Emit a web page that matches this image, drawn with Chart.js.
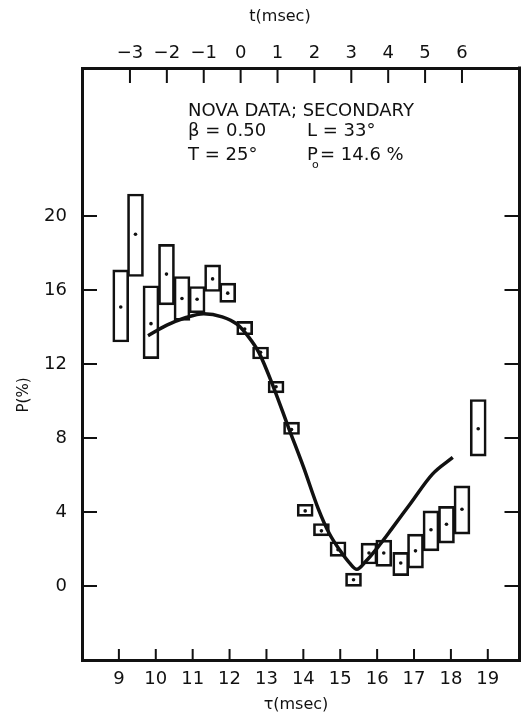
<!DOCTYPE html>
<html><head><meta charset="utf-8">
<script src="https://cdn.jsdelivr.net/npm/chart.js@4.4.1/dist/chart.umd.min.js"></script>
<style>html,body{margin:0;padding:0;background:#fff;}canvas{display:block;}</style>
</head><body>
<canvas id="c" width="521" height="723"></canvas>
<script>
// ---- data ----
const tau   = [9.05, 9.45, 9.87, 10.29, 10.71, 11.12, 11.54, 11.95, 12.41, 12.84, 13.26, 13.68, 14.05, 14.49, 14.94, 15.36, 15.78, 16.18, 16.64, 17.04, 17.46, 17.88, 18.30, 18.74];
const pMid  = [15.08, 19.01, 14.18, 16.86, 15.54, 15.50, 16.60, 15.83, 13.89, 12.63, 10.77, 8.46, 4.06, 2.98, 1.96, 0.34, 1.78, 1.78, 1.24, 1.90, 3.04, 3.34, 4.15, 8.50];
const pHigh = [17.09, 21.19, 16.23, 18.47, 16.73, 16.19, 17.36, 16.37, 14.30, 12.92, 11.07, 8.86, 4.42, 3.38, 2.39, 0.70, 2.32, 2.48, 1.82, 2.80, 4.06, 4.30, 5.41, 10.08];
const pLow  = [13.19, 16.73, 12.29, 15.20, 14.36, 14.77, 15.92, 15.33, 13.58, 12.27, 10.44, 8.19, 3.76, 2.71, 1.60, -0.02, 1.19, 1.06, 0.56, 0.97, 1.90, 2.32, 2.80, 7.02];
const curveTau = [9.79, 10.3, 10.8, 11.3, 11.8, 12.2, 12.5, 12.8, 13.2, 13.6, 14.0, 14.4, 14.7, 15.0, 15.25, 15.45, 15.7, 16.0, 16.4, 16.9, 17.5, 18.05];
const curveP   = [13.53, 14.1, 14.5, 14.72, 14.55, 14.15, 13.5, 12.6, 10.7, 8.55, 6.45, 4.2, 2.85, 1.9, 1.25, 0.9, 1.35, 2.05, 3.1, 4.45, 6.05, 6.95];
const tauTicks = [9, 10, 11, 12, 13, 14, 15, 16, 17, 18, 19];
const tTicks   = [-3, -2, -1, 0, 1, 2, 3, 4, 5, 6];
const pTicks   = [0, 4, 8, 12, 16, 20];
const tauMin = 8, tauMax = 19.9, tShift = 12.3, pMin = -4, pMax = 28;

const INK = '#111';
const FAM = '"DejaVu Sans", sans-serif';
Chart.defaults.font.family = FAM;
Chart.defaults.color = INK;

const fixTicks = vals => scale => { scale.ticks = vals.map(v => ({ value: v })); };
const minus = v => (v < 0 ? '\u2212' + Math.abs(v) : String(v));
const noPad = (prop, size) => s => {
  s[prop] = size;
  s.paddingLeft = 0; s.paddingRight = 0; s.paddingTop = 0; s.paddingBottom = 0;
};

const decor = {
  id: 'decor',
  afterDraw(chart) {
    const ctx = chart.ctx, a = chart.chartArea, s = chart.scales;
    const rightX = Math.min(a.right, 521) - 1.5;
    ctx.save();
    ctx.strokeStyle = INK; ctx.lineCap = 'butt';
    // right frame line
    ctx.lineWidth = 3;
    ctx.beginPath(); ctx.moveTo(rightX, a.top - 1.5); ctx.lineTo(rightX, a.bottom + 1.5); ctx.stroke();
    // inward tick marks
    ctx.lineWidth = 2;
    ctx.beginPath();
    s.x.ticks.forEach(t => { const px = s.x.getPixelForValue(t.value); ctx.moveTo(px, a.bottom); ctx.lineTo(px, a.bottom - 11); });
    s.xt.ticks.forEach(t => { const px = s.xt.getPixelForValue(t.value); ctx.moveTo(px, a.top); ctx.lineTo(px, a.top + 15); });
    s.y.ticks.forEach(t => {
      const py = s.y.getPixelForValue(t.value);
      ctx.moveTo(a.left, py); ctx.lineTo(a.left + 15, py);
      ctx.moveTo(rightX - 15, py); ctx.lineTo(rightX, py);
    });
    ctx.stroke();

    ctx.fillStyle = INK;
    // axis titles
    ctx.font = '16px ' + FAM; ctx.textAlign = 'center'; ctx.textBaseline = 'alphabetic';
    ctx.fillText('t(msec)', 280, 21);
    ctx.fillText('\u03C4(msec)', 296, 709);
    ctx.save(); ctx.translate(28, 395); ctx.rotate(-Math.PI / 2);
    ctx.font = '15px ' + FAM; ctx.fillText('P(%)', 0, 0); ctx.restore();

    // annotation block
    ctx.textAlign = 'left';
    ctx.font = '18px ' + FAM;
    ctx.fillText('NOVA DATA; SECONDARY', 188, 116);
    ctx.fillText('\u03B2 = 0.50', 188, 136);
    ctx.fillText('L = 33\u00B0', 307, 136);
    ctx.fillText('T = 25\u00B0', 188, 160);
    ctx.fillText('P', 307, 160);
    ctx.font = '11px ' + FAM; ctx.fillText('o', 312, 168);
    ctx.font = '18px ' + FAM; ctx.fillText('= 14.6 %', 320, 160);
    ctx.restore();
  }
};

new Chart(document.getElementById('c'), {
  type: 'bar',
  data: {
    datasets: [
      {
        type: 'line', label: 'fit',
        data: curveTau.map((x, i) => ({ x, y: curveP[i] })),
        borderColor: INK, borderWidth: 3.5, pointRadius: 0, fill: false,
        cubicInterpolationMode: 'monotone', xAxisID: 'x', yAxisID: 'y', order: 0
      },
      {
        type: 'scatter', label: 'P',
        data: tau.map((x, i) => ({ x, y: pMid[i] })),
        backgroundColor: INK, borderColor: INK, pointRadius: 1.8, borderWidth: 0,
        xAxisID: 'x', yAxisID: 'y', order: 1
      },
      {
        type: 'bar', label: 'range',
        data: tau.map((x, i) => ({ x, y: [pLow[i], pHigh[i]] })),
        backgroundColor: 'rgba(0,0,0,0)', borderColor: INK, borderWidth: 2,
        borderSkipped: false, barThickness: 16, xAxisID: 'x', yAxisID: 'y', order: 2
      }
    ]
  },
  options: {
    responsive: false, animation: false, devicePixelRatio: 1,
    layout: { padding: 0, autoPadding: false },
    plugins: { legend: { display: false }, tooltip: { enabled: false } },
    scales: {
      x: {
        type: 'linear', position: 'bottom', min: tauMin, max: tauMax, offset: false,
        grid: { display: false, drawTicks: false },
        border: { display: true, color: INK, width: 3 },
        ticks: { font: { size: 18 }, padding: 9, color: INK, maxRotation: 0, autoSkip: false, callback: v => String(v) },
        afterBuildTicks: fixTicks(tauTicks),
        afterFit: noPad('height', 63)
      },
      xt: {
        type: 'linear', position: 'top', min: tauMin - tShift, max: tauMax - tShift, offset: false,
        grid: { display: false, drawTicks: false },
        border: { display: true, color: INK, width: 3 },
        ticks: { font: { size: 18 }, padding: 4, color: INK, maxRotation: 0, autoSkip: false, callback: v => minus(v) },
        afterBuildTicks: fixTicks(tTicks),
        afterFit: noPad('height', 68)
      },
      y: {
        type: 'linear', position: 'left', min: pMin, max: pMax,
        grid: { display: false, drawTicks: false },
        border: { display: true, color: INK, width: 3 },
        ticks: { font: { size: 18 }, padding: 15, color: INK, autoSkip: false, callback: v => String(v) },
        afterBuildTicks: fixTicks(pTicks),
        afterFit: noPad('width', 82)
      }
    }
  },
  plugins: [decor]
});
</script>
</body></html>
